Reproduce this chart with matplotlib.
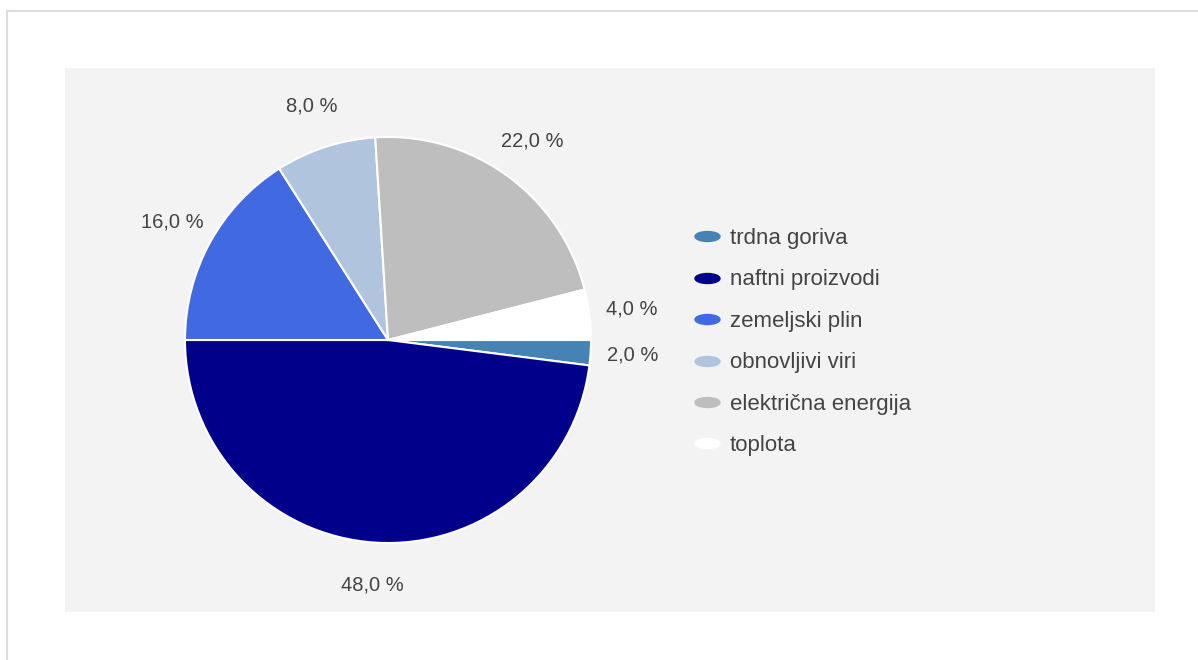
import matplotlib.pyplot as plt
from matplotlib.patches import Rectangle
from matplotlib.lines import Line2D
from matplotlib.path import Path
from matplotlib.transforms import Affine2D

categories = ["trdna goriva", "naftni proizvodi", "zemeljski plin",
              "obnovljivi viri", "električna energija", "toplota"]
shares = [2.0, 48.0, 16.0, 8.0, 22.0, 4.0]
colors = ["#4682b4", "#00008b", "#4169e1", "#b0c4de", "#bebebe", "#ffffff"]

W, H = 1198, 660
TXT = "#444444"
plt.rcParams["font.family"] = ["Liberation Sans", "DejaVu Sans"]

fig = plt.figure(figsize=(W / 100, H / 100), dpi=100)
fig.patch.set_facecolor("white")

# outer frame and grey plot area
fig.patches.append(Rectangle((7 / W, -0.1), 1.0, 1.1 - 11 / H, transform=fig.transFigure,
                             facecolor="none", edgecolor="#dcdcdc", lw=1.5, zorder=-10))
fig.patches.append(Rectangle((65 / W, 1 - 612 / H), (1155 - 65) / W, (612 - 68) / H,
                             transform=fig.transFigure, facecolor="#f3f3f3",
                             edgecolor="none", zorder=-10))

# pie axes: centre (388, 340), radius ~203 px
cx, cy, r = 388, 340, 203
ax = fig.add_axes([(cx - r) / W, 1 - (cy + r) / H, 2 * r / W, 2 * r / H])
ax.set_facecolor("none")


def pct(p):
    return f"{p:.1f}".replace(".", ",") + " %"


wedges, _, autotexts = ax.pie(shares, colors=colors, startangle=0, counterclock=False,
                              autopct=pct, pctdistance=1.21,
                              wedgeprops=dict(edgecolor="white", linewidth=1.5),
                              textprops=dict(color=TXT, fontsize=14.5))
for t in autotexts:
    t.set_clip_on(False)
ax.set_xlim(-1, 1)
ax.set_ylim(-1, 1)
ax.set_aspect("equal")

# legend with flat ellipse markers
ellipse = Path.unit_circle().transformed(Affine2D().scale(1.0, 0.4))
handles = [Line2D([], [], linestyle="none", marker=ellipse, markersize=18,
                  markerfacecolor=c, markeredgecolor=c) for c in colors]
leg = fig.legend(handles, categories, loc="upper left",
                 bbox_to_anchor=(694 / W, 1 - 228 / H), frameon=False,
                 fontsize=16, labelspacing=0.92, handlelength=1.2,
                 handletextpad=0.4, borderpad=0, borderaxespad=0)
for t in leg.get_texts():
    t.set_color(TXT)

fig.savefig("out.png", dpi=100, facecolor="white")
